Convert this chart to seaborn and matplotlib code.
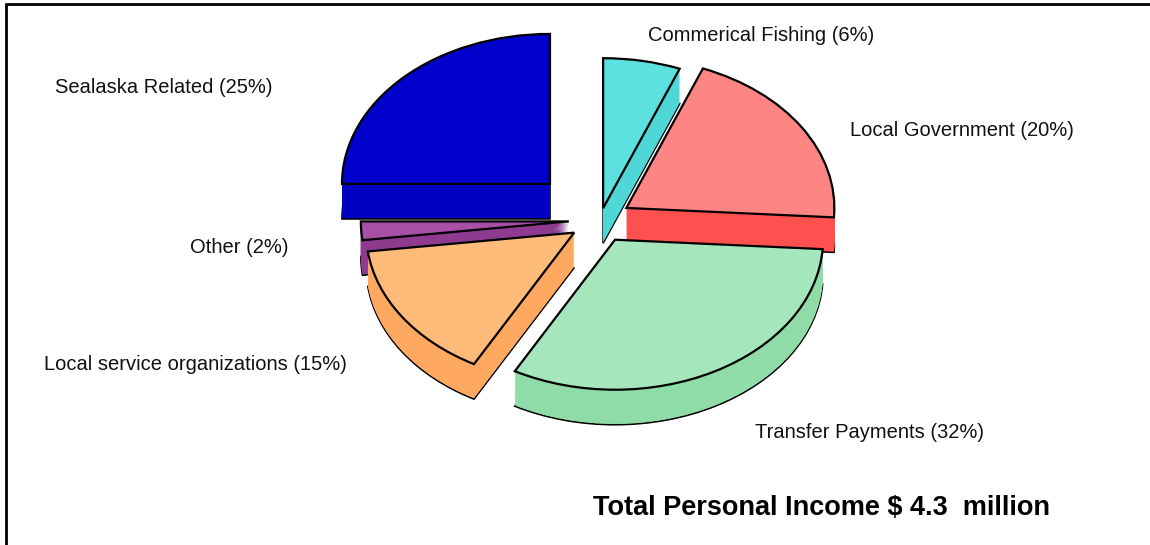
import matplotlib
matplotlib.use("Agg")
import matplotlib.pyplot as plt
import seaborn as sns
import numpy as np

# ---- data ----
categories = ["Commerical Fishing", "Local Government", "Transfer Payments",
              "Local service organizations", "Other", "Sealaska Related"]
shares = [6, 20, 32, 15, 2, 25]
top_colors = ["#5CE0E0", "#FF8585", "#A6E6BD", "#FFBB7A", "#A850A8", "#0000CC"]
side_colors = ["#4FD6D6", "#FF5050", "#8FDCA8", "#FFA860", "#8E3A8E", "#0000C4"]
explode = [0.08, 0.15, 0.15, 0.15, 0.15, 0.34]
total_text = "Total Personal Income $ 4.3  million"

sns.set_theme(style="white")
plt.rcParams['font.family'] = ['Liberation Sans', 'DejaVu Sans']

W, H = 1150, 545
fig = plt.figure(figsize=(W / 100, H / 100), dpi=100)
ax = fig.add_axes([0, 0, 1, 1])

# geometry (pixels)
rx, ry = 208.0, 150.0
cx_px, cy_px = 600.0, 220.0
depth_px = 35.0
yscale = rx / ry  # data units per pixel in y
ax.set_xlim(0, W)
ax.set_ylim(0, H * yscale)

cx = cx_px
cy = (H - cy_px) * yscale
depth = depth_px * yscale

expl_abs = [e * rx for e in explode]
common = dict(startangle=90, counterclock=False, explode=expl_abs, radius=rx,
              frame=True)

# bottom face with outline
ax.pie(shares, colors=side_colors, center=(cx, cy - depth),
       wedgeprops=dict(edgecolor="black", linewidth=1.2), **common)
# extrusion layers
n_layers = 40
for k in range(1, n_layers):
    ax.pie(shares, colors=side_colors, center=(cx, cy - depth + depth * k / n_layers),
           wedgeprops=dict(edgecolor="none", linewidth=0), **common)
# top face
ax.pie(shares, colors=top_colors, center=(cx, cy),
       wedgeprops=dict(edgecolor="black", linewidth=1.6), **common)

ax.set_aspect("auto")
ax.set_xlim(0, W)
ax.set_ylim(0, H * yscale)
ax.axis("off")

labels = [f"{c} ({s}%)" for c, s in zip(categories, shares)]
label_pos = [(648, 35), (850, 130), (755, 433), (44, 365), (190, 247), (55, 87)]
for lab, (x, y) in zip(labels, label_pos):
    fig.text(x / W, 1 - y / H, lab, fontsize=14.5, ha="left", va="center", color="#111111")

fig.text(593 / W, 1 - 508 / H, total_text, fontsize=19.5, fontweight="bold",
         ha="left", va="center", color="black")

# partial frame (left and top lines)
fig.add_artist(plt.Line2D([6 / W, 6 / W], [0, 1 - 4 / H], transform=fig.transFigure,
                          color="black", linewidth=2))
fig.add_artist(plt.Line2D([6 / W, 1], [1 - 4 / H, 1 - 4 / H], transform=fig.transFigure,
                          color="black", linewidth=2))

fig.savefig("out.png", dpi=100)
